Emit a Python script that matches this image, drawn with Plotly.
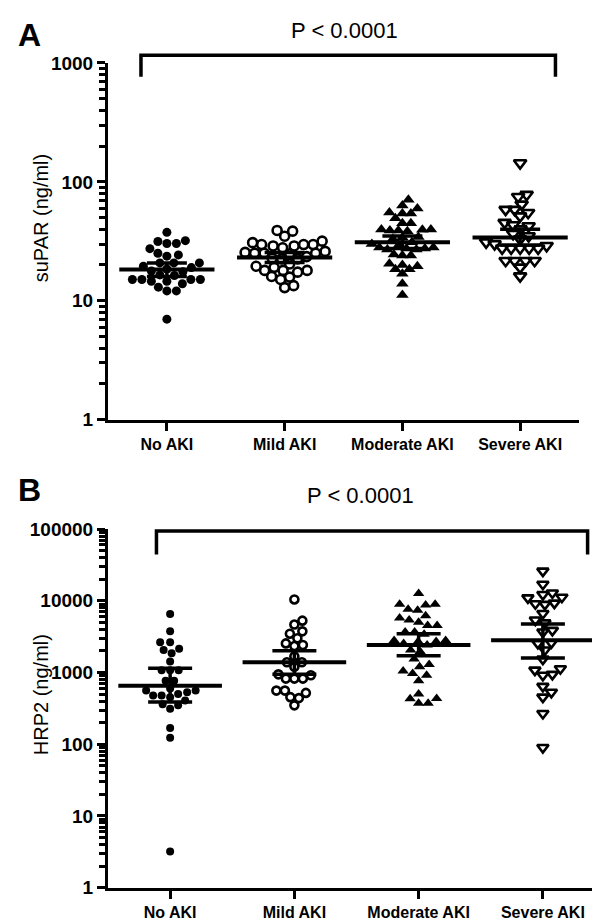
import math
import plotly.graph_objects as go

# ---------------- DATA ----------------
categories = ["No AKI", "Mild AKI", "Moderate AKI", "Severe AKI"]

supar_no = [37.6, 32, 30.3, 30.3, 31.5, 27.4, 25.1, 24.3, 23.7, 20.8, 20.8, 20.8, 19.5, 19, 18.5,
            17.8, 17.5, 16.5, 16.3, 15.1, 15.1, 14.6, 14.6, 13.9, 15.1, 15.1, 12.1, 12.1, 13.0, 7.0]
supar_mild = [38.5, 39, 34.9, 31.7, 29.7, 29.7, 28.9, 27.9, 28.9, 29.7, 30.8, 25.1, 25.1, 25.5, 26,
              25.1, 24.8, 23.5, 22.8, 22.5, 22.5, 19.1, 18.0, 17.4, 18.0, 18.0, 19.5, 20.4, 15.1, 15.8,
              16.0, 12.9, 13.4]
supar_mod = [70.6, 59.6, 63.4, 54.2, 55.2, 54.2, 49.3, 44.9, 44.9, 39.8, 39, 38.5, 39.5, 39,
             39.8, 34.4, 34, 33, 31, 30, 29.5, 28, 27.5, 27, 27.5, 27, 28, 24, 24.5,
             24, 20, 19.5, 18.4, 20.5, 18.4, 16.9, 13.9, 11.2]
supar_sev = [144, 78, 75, 64.6, 58.4, 58.4, 51.5, 55, 43.4, 45.4, 42.5, 40, 36.6, 35, 33, 31,
             30, 29, 27.6, 27.6, 27.6, 27.6, 27.6, 21.7, 21.7, 21.7, 19.1, 21.7, 16.1]
supar_mean = [18.3, 23.1, 31.1, 34.0]
supar_ci_low = [16.0, 21.0, 27.5, 29.5]
supar_ci_high = [20.8, 25.5, 35.0, 40.0]

hrp2_no = [6530, 3750, 2650, 2650, 2150, 2065, 1860, 1430, 1080, 1080, 1080, 766, 766, 601, 560,
           504, 478, 478, 454, 531, 560, 361, 314, 349, 409, 168, 123, 3.2]
hrp2_mild = [10450, 5290, 4670, 3750, 3480, 3010, 2550, 2340, 2420, 1680, 1390, 1390, 1200, 944,
             824, 824, 824, 915, 560, 560, 454, 440, 520, 349]
hrp2_mod = [12600, 8930, 7400, 7630, 8750, 8930, 5760, 5020, 4520, 4520, 5400, 6190, 3670, 3410,
            3670, 2800, 2700, 2550, 2700, 2800, 2415, 2065, 1960, 1540, 1290, 1050, 915, 973, 1200,
            766, 504, 436, 372, 372, 430]
hrp2_sev = [25950, 17050, 11220, 12880, 12220, 9120, 8930, 9290, 10990, 6670, 4920, 5400, 3870,
            3670, 2600, 2550, 2065, 1540, 1130, 944, 915, 1080, 641, 531, 454, 269, 90]
hrp2_mean = [655, 1390, 2415, 2820]
hrp2_ci_low = [388, 944, 1710, 1590]
hrp2_ci_high = [1150, 2020, 3480, 4770]

supar_ticks = [1, 10, 100, 1000]
supar_ticktext = ["1", "10", "100", "1000"]
hrp2_ticks = [1, 10, 100, 1000, 10000, 100000]
hrp2_ticktext = ["1", "10", "100", "1000", "10000", "100000"]

# ---------------- LAYOUT HELPERS ----------------
W, H = 600, 922
def px_x(p):
    return p / W
def px_y(p):
    return 1 - p / H

FONT = "Liberation Sans, Arial, Helvetica, sans-serif"

# panel geometry (pixels)
A_x0, A_x1, A_ytop, A_ybot = 100, 571, 46, 411
B_x0, B_x1, B_ytop, B_ybot = 100, 597, 523, 890


def swarm(vals, center, px_per_unit, px_per_decade, diam):
    """Simple beeswarm: spread points horizontally so they do not overlap too much."""
    order = sorted(range(len(vals)), key=lambda i: math.log10(vals[i]))
    placed = []
    xs = [0.0] * len(vals)
    for i in order:
        yp = math.log10(vals[i]) * px_per_decade
        best = None
        step = 0.5
        k = 0
        while best is None:
            for off in ([0.0] if k == 0 else [k * step, -k * step]):
                ok = True
                for (xo, yo) in placed:
                    if (off - xo) ** 2 + (yp - yo) ** 2 < diam ** 2:
                        ok = False
                        break
                if ok:
                    best = off
                    break
            k += 1
        placed.append((best, yp))
        xs[i] = center + best / px_per_unit
    return xs


fig = go.Figure()

styles = [
    dict(symbol="circle", color="black", line=dict(width=0)),
    dict(symbol="circle-open", color="black", line=dict(width=2.6, color="black")),
    dict(symbol="triangle-up", color="black", line=dict(width=0)),
    dict(symbol="triangle-down-open", color="black", line=dict(width=2.6, color="black")),
]

# Panel A
A_ppu = (A_x1 - A_x0) / 4.0
A_ppd = (A_ybot - A_ytop) / 3.0
A_sizes = [9, 9, 11, 11]
A_spacing = [9.2, 9.2, 8.2, 8.6]
for k, vals in enumerate([supar_no, supar_mild, supar_mod, supar_sev]):
    xs = swarm(vals, k, A_ppu, A_ppd, A_spacing[k])
    fig.add_trace(go.Scatter(x=xs, y=vals, mode="markers", xaxis="x", yaxis="y",
                             marker=dict(size=A_sizes[k], **styles[k]), hoverinfo="y"))
fig.add_trace(go.Scatter(
    x=list(range(4)), y=supar_mean, mode="markers", xaxis="x", yaxis="y",
    marker=dict(symbol="line-ew", size=68, color="black", line=dict(width=4, color="black")),
    error_y=dict(type="data", symmetric=False,
                 array=[h - m for h, m in zip(supar_ci_high, supar_mean)],
                 arrayminus=[m - l for m, l in zip(supar_mean, supar_ci_low)],
                 thickness=3.5, width=20, color="black")))

# Panel B
B_ppu = (B_x1 - B_x0) / 4.0
B_ppd = (B_ybot - B_ytop) / 5.0
B_sizes = [8, 8, 10, 10]
B_spacing = [8.5, 8.5, 9.5, 9.5]
for k, vals in enumerate([hrp2_no, hrp2_mild, hrp2_mod, hrp2_sev]):
    xs = swarm(vals, k, B_ppu, B_ppd, B_spacing[k])
    fig.add_trace(go.Scatter(x=xs, y=vals, mode="markers", xaxis="x2", yaxis="y2",
                             marker=dict(size=B_sizes[k], **styles[k]), hoverinfo="y"))
fig.add_trace(go.Scatter(
    x=list(range(4)), y=hrp2_mean, mode="markers", xaxis="x2", yaxis="y2",
    marker=dict(symbol="line-ew", size=74, color="black", line=dict(width=4, color="black")),
    error_y=dict(type="data", symmetric=False,
                 array=[h - m for h, m in zip(hrp2_ci_high, hrp2_mean)],
                 arrayminus=[m - l for m, l in zip(hrp2_mean, hrp2_ci_low)],
                 thickness=3.5, width=22, color="black")))


def minor_vals(ndec):
    return [m * 10 ** d for d in range(ndec) for m in range(2, 10)]

xaxis_common = dict(
    range=[-0.5, 3.5], tickvals=list(range(4)), ticktext=categories,
    showline=True, linewidth=3, linecolor="black", ticks="outside", ticklen=8, tickwidth=3,
    tickcolor="black", showgrid=False, zeroline=False,
    tickfont=dict(family=FONT, size=16, color="black", weight="bold"),
)
yaxis_common = dict(
    type="log", showline=True, linewidth=3, linecolor="black", ticks="outside", ticklen=8,
    tickwidth=3, tickcolor="black", showgrid=False, zeroline=False,
    tickfont=dict(family=FONT, size=19, color="black", weight="bold"),
)

fig.update_layout(
    width=W, height=H, margin=dict(l=0, r=0, t=0, b=0),
    paper_bgcolor="white", plot_bgcolor="white", showlegend=False,
    xaxis=dict(domain=[px_x(A_x0), px_x(A_x1)], anchor="y", **xaxis_common),
    yaxis=dict(domain=[px_y(A_ybot), px_y(A_ytop)], anchor="x", range=[0, 3],
               tickvals=supar_ticks, ticktext=supar_ticktext,
               minor=dict(tickvals=minor_vals(3), ticks="outside", ticklen=6, tickwidth=2.5,
                          tickcolor="black"),
               **yaxis_common),
    xaxis2=dict(domain=[px_x(B_x0), px_x(B_x1)], anchor="y2", **xaxis_common),
    yaxis2=dict(domain=[px_y(B_ybot), px_y(B_ytop)], anchor="x2", range=[0, 5],
                tickvals=hrp2_ticks, ticktext=hrp2_ticktext,
                minor=dict(tickvals=minor_vals(5), ticks="outside", ticklen=6, tickwidth=2.5,
                           tickcolor="black"),
                **yaxis_common),
)

# Significance brackets
def bracket(xref, xa, xb, ptop, pbot):
    path = (f"M {xa},{px_y(pbot)} L {xa},{px_y(ptop)} L {xb},{px_y(ptop)} L {xb},{px_y(pbot)}")
    fig.add_shape(type="path", xref=xref, yref="paper", path=path,
                  line=dict(color="black", width=3.5))

bracket("x", -0.22, 3.30, 38, 60)
bracket("x2", -0.11, 3.36, 525, 549)

ann = []
ann.append(dict(text="A", x=px_x(21), y=px_y(17), font=dict(family=FONT, size=32, color="black", weight="bold")))
ann.append(dict(text="B", x=px_x(21), y=px_y(483), font=dict(family=FONT, size=32, color="black", weight="bold")))
ann.append(dict(text="P < 0.0001", x=px_x(336), y=px_y(13), font=dict(family=FONT, size=22, color="black")))
ann.append(dict(text="P < 0.0001", x=px_x(352), y=px_y(489), font=dict(family=FONT, size=22, color="black")))
ann.append(dict(text="suPAR (ng/ml)", x=px_x(33), y=px_y(205), textangle=-90,
                font=dict(family=FONT, size=20, color="black")))
ann.append(dict(text="HRP2 (ng/ml)", x=px_x(33), y=px_y(693), textangle=-90,
                font=dict(family=FONT, size=20, color="black")))
for a in ann:
    fig.add_annotation(xref="paper", yref="paper", showarrow=False, xanchor="center",
                       yanchor="middle", **a)

fig.write_html("out.html")
